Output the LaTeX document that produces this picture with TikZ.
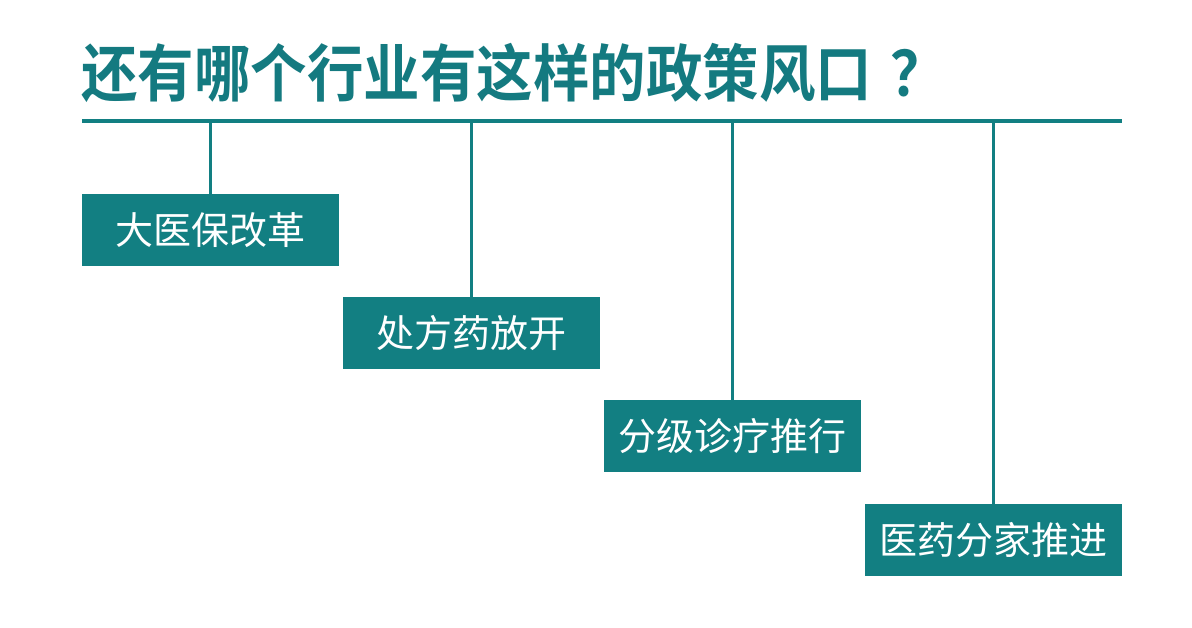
\documentclass[tikz,border=0pt]{standalone}
\usepackage{fontspec}
\newfontfamily\cjk{Noto Sans CJK SC}
\newfontfamily\cjkb{Noto Sans CJK SC Bold}
\definecolor{teal1}{RGB}{18,127,130}
\definecolor{titlec}{RGB}{20,122,128}
\tikzset{
  boxn/.style={fill=teal1, draw=none, minimum width=257pt, minimum height=72pt, inner sep=0pt, text=white, font=\cjk\fontsize{38}{38}\selectfont},
  conn/.style={draw=teal1, line width=2.2pt},
}
\begin{document}
\begin{tikzpicture}[x=1pt,y=-1pt]
\useasboundingbox (0,0) rectangle (1192,628);
\fill[white] (0,0) rectangle (1192,628);
\node[anchor=west, inner sep=0pt, text=titlec, font=\cjkb\fontsize{56.5}{56.5}\selectfont] (title) at (81,73) {\scalebox{1}[1.1]{还有哪个行业有这样的政策风口\hspace{18pt}？}};
\coordinate (hl) at (82,121);
\coordinate (hr) at (1122,121);
\draw[draw=teal1, line width=4pt] (hl) -- (hr);
\node[boxn] (b1) at (210.5,230) {大医保改革};
\node[boxn] (b2) at (471.5,333) {处方药放开};
\node[boxn] (b3) at (732.5,436) {分级诊疗推行};
\node[boxn] (b4) at (993.5,540) {医药分家推进};
\foreach \b in {b1,b2,b3,b4}{
  \draw[conn] (\b.north) -- (\b.north |- hl);
}
\end{tikzpicture}
\end{document}
